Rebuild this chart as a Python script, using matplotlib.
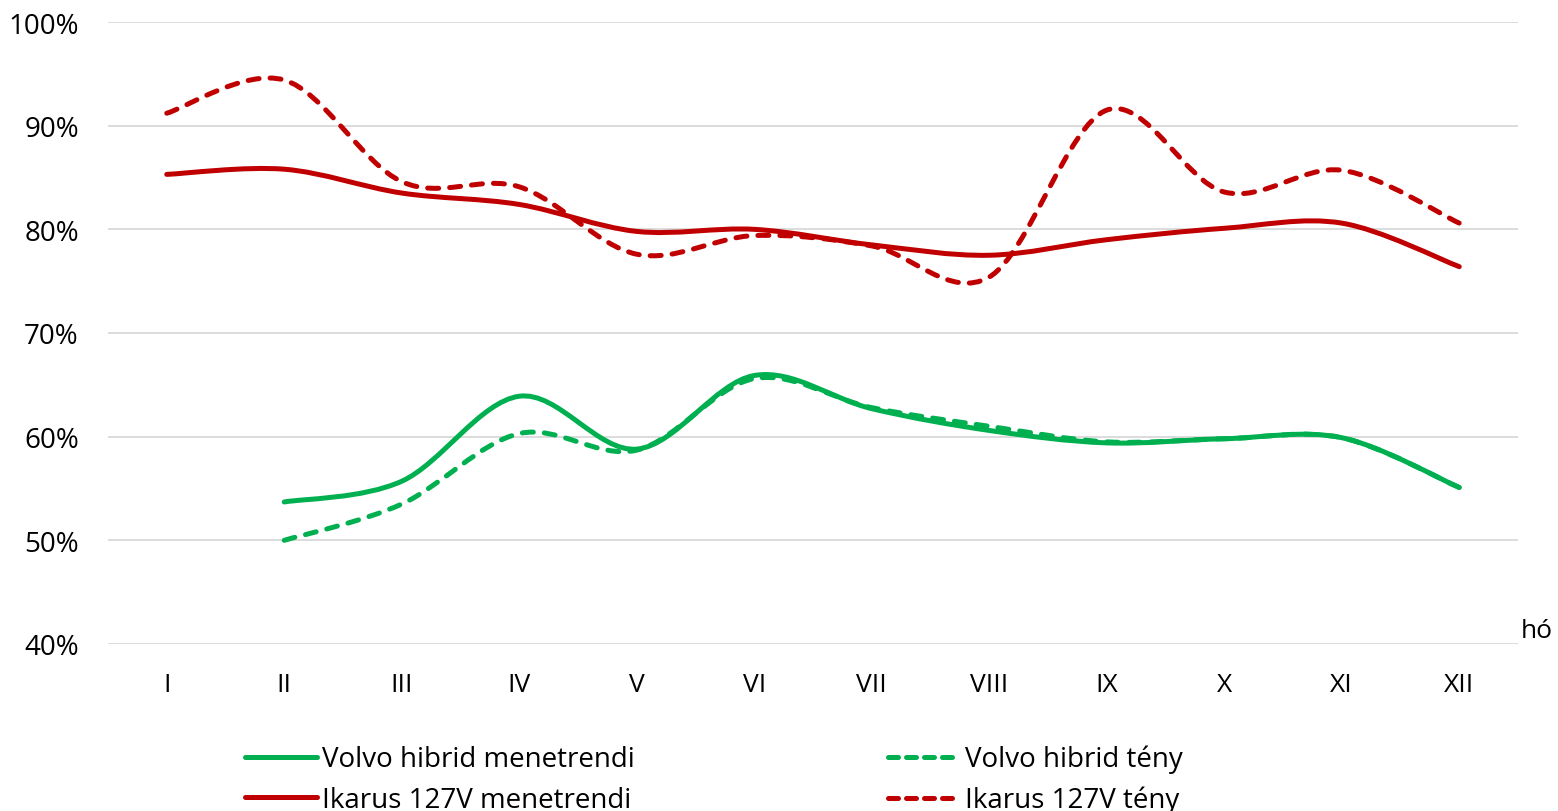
import matplotlib
matplotlib.use("Agg")
import matplotlib.pyplot as plt
from matplotlib.path import Path
from matplotlib.patches import PathPatch
from matplotlib.lines import Line2D
from matplotlib.ticker import PercentFormatter
import numpy as np

months = ["I", "II", "III", "IV", "V", "VI", "VII", "VIII", "IX", "X", "XI", "XII"]

volvo_menetrendi = [None, 0.537, 0.557, 0.639, 0.588, 0.659, 0.627, 0.606, 0.594, 0.598, 0.599, 0.551]
volvo_teny       = [None, 0.500, 0.535, 0.603, 0.587, 0.656, 0.628, 0.610, 0.595, 0.598, 0.599, 0.551]
ikarus_menetrendi = [0.853, 0.858, 0.835, 0.824, 0.798, 0.800, 0.785, 0.775, 0.790, 0.801, 0.806, 0.764]
ikarus_teny       = [0.912, 0.944, 0.846, 0.841, 0.776, 0.794, 0.784, 0.754, 0.915, 0.836, 0.857, 0.806]

series_labels = ["Volvo hibrid menetrendi", "Volvo hibrid tény",
                 "Ikarus 127V menetrendi", "Ikarus 127V tény"]
GREEN = "#00b050"
RED = "#c00000"

W, H = 1558, 812
fig = plt.figure(figsize=(W / 100, H / 100), dpi=100)
ax = fig.add_axes([108 / W, 1 - 645 / H, (1518 - 108) / W, (645 - 23) / H])

LW = 3.6


def smooth_path(values):
    pts = [(i, v) for i, v in enumerate(values) if v is not None]
    P = np.array(pts, dtype=float)
    n = len(P)
    verts = [tuple(P[0])]
    codes = [Path.MOVETO]
    for i in range(n - 1):
        p0 = P[i - 1] if i > 0 else P[i]
        p1 = P[i]
        p2 = P[i + 1]
        p3 = P[i + 2] if i + 2 < n else P[i + 1]
        c1 = p1 + (p2 - p0) / 6.0
        c2 = p2 - (p3 - p1) / 6.0
        verts += [tuple(c1), tuple(c2), tuple(p2)]
        codes += [Path.CURVE4] * 3
    return Path(verts, codes)


def draw(values, color, dashed):
    patch = PathPatch(smooth_path(values), fill=False, edgecolor=color, lw=LW,
                      capstyle="round", joinstyle="round", zorder=3)
    if dashed:
        patch.set_linestyle((0, (2.2, 2.2)))
    ax.add_patch(patch)


draw(ikarus_teny, RED, True)
draw(ikarus_menetrendi, RED, False)
draw(volvo_teny, GREEN, True)
draw(volvo_menetrendi, GREEN, False)

ax.set_xlim(-0.5, len(months) - 0.5)
ax.set_ylim(0.4, 1.0)
ax.set_xticks(range(len(months)))
ax.set_xticklabels(months)
ax.set_yticks(np.arange(0.4, 1.001, 0.1))
ax.yaxis.set_major_formatter(PercentFormatter(1.0, decimals=0))
ax.grid(axis="y", color="#d9d9d9", lw=1.3)
ax.set_axisbelow(True)
for s in ax.spines.values():
    s.set_visible(False)
ax.tick_params(axis="both", length=0, labelsize=19, labelcolor="black")
ax.tick_params(axis="y", labelsize=20, pad=21)
ax.tick_params(axis="x", pad=20)
for lab in ax.get_xticklabels() + ax.get_yticklabels():
    lab.set_fontfamily("Open Sans")

fig.text(1521 / W, 1 - 632 / H, "hó", fontsize=19, family="Open Sans",
         ha="left", va="center")

handles = [
    Line2D([], [], color=GREEN, lw=LW, solid_capstyle="round"),
    Line2D([], [], color=GREEN, lw=LW, ls=(0, (2.0, 1.6)), dash_capstyle="round"),
    Line2D([], [], color=RED, lw=LW, solid_capstyle="round"),
    Line2D([], [], color=RED, lw=LW, ls=(0, (2.0, 1.6)), dash_capstyle="round"),
]
order = [0, 2, 1, 3]
leg = fig.legend([handles[i] for i in order], [series_labels[i] for i in order],
                 loc="upper left", bbox_to_anchor=(245 / W, 1 - 746 / H),
                 ncol=2, frameon=False, borderpad=0, borderaxespad=0,
                 handlelength=2.6, handletextpad=0.18, columnspacing=9.1,
                 labelspacing=0.45,
                 prop={"family": "Open Sans", "size": 20})

fig.savefig("out.png", dpi=100, facecolor="white")
